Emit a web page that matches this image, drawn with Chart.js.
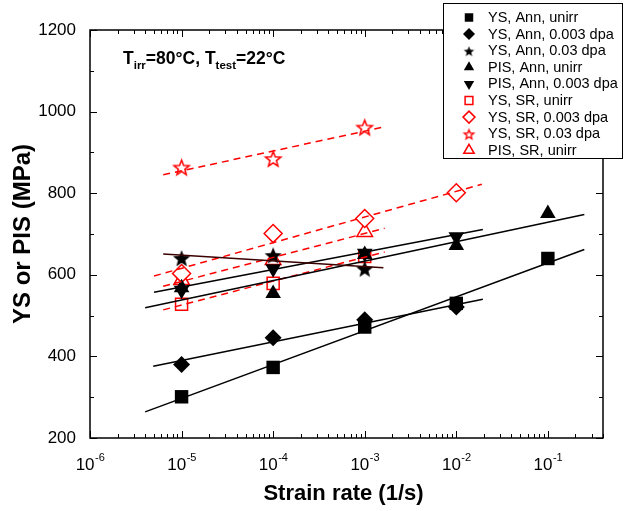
<!DOCTYPE html>
<html>
<head>
<meta charset="utf-8">
<script src="https://cdn.jsdelivr.net/npm/chart.js@4.4.1/dist/chart.umd.min.js"></script>
<style>
  html, body { margin: 0; padding: 0; background: #fff; }
</style>
</head>
<body>
<canvas id="myChart" width="624" height="511"></canvas>
<script>
// strain rates (1/s) and measured strengths (MPa)
const rates = [1e-5, 1e-4, 1e-3, 1e-2, 1e-1];
const ysAnnUnirr = [301, 373, 472, 530, 640];
const ysAnn0003 = [380, 446, 490, 521];
const ysAnn003 = [641, 648, 615];
const pisAnnUnirr = [568, 554, 650, 672, 750];
const pisAnn0003 = [562, 615, 653, 693];
const ysSrUnirr = [528, 579, 645];
const ysSr0003 = [603, 701, 738, 801];
const ysSr003 = [864, 885, 962];
const pisSrUnirr = [587, 636, 705];

// fit line end points [rate, MPa]
const fitYsAnnUnirr = [[4e-6, 264], [0.25, 662]];
const fitYsAnn0003 = [[4.9e-6, 376], [0.0195, 540]];
const fitYsAnn003 = [[6.3e-6, 651], [1.6e-3, 617]];
const fitPisAnnUnirr = [[4e-6, 519], [0.25, 748]];
const fitPisAnn0003 = [[5e-6, 557], [0.0195, 711]];
const fitYsSrUnirr = [[6.3e-6, 514], [1.65e-3, 656]];
const fitYsSr0003 = [[5e-6, 597], [0.019, 822]];
const fitYsSr003 = [[6.3e-6, 845], [1.6e-3, 962]];
const fitPisSrUnirr = [[6.3e-6, 572], [1.65e-3, 714]];

const xTickValues = [1e-6, 1e-5, 1e-4, 1e-3, 1e-2, 1e-1];
const xTickExps = ['-6', '-5', '-4', '-3', '-2', '-1'];
const yTicks = [200, 400, 600, 800, 1000, 1200];

const RED = '#ff0000';
const FONT = 'Arial, "Liberation Sans", sans-serif';

function starCanvas(R, fill, stroke, lw) {
    const s = Math.ceil(2 * R + lw * 2 + 2);
    const c = document.createElement('canvas');
    c.width = c.height = s;
    const g = c.getContext('2d');
    g.beginPath();
    for (let i = 0; i < 10; i++) {
        const r = i % 2 ? R * 0.43 : R;
        const a = -Math.PI / 2 + i * Math.PI / 5;
        g.lineTo(s / 2 + r * Math.cos(a), s / 2 + 1 + r * Math.sin(a));
    }
    g.closePath();
    if (fill) { g.fillStyle = fill; g.fill(); }
    if (stroke) { g.strokeStyle = stroke; g.lineWidth = lw; g.stroke(); }
    return c;
}

const blackStar = starCanvas(9, '#000', null, 0);
const redStar = starCanvas(8, '#fff', RED, 1.5);
const blackStarSmall = starCanvas(5.5, '#000', null, 0);
const redStarSmall = starCanvas(5, '#fff', RED, 1.3);

function pts(xs, ys) {
    return ys.map((y, i) => ({x: xs[i], y: y}));
}
function seg(p) {
    return p.map(q => ({x: q[0], y: q[1]}));
}

function markers(label, data, style, radius, color, filled, rot, legendStyle, legendRadius) {
    return {
        label: label,
        data: data,
        showLine: false,
        pointStyle: style,
        pointRadius: radius,
        pointHoverRadius: radius,
        pointRotation: rot || 0,
        pointBackgroundColor: filled ? color : '#fff',
        pointBorderColor: color,
        pointBorderWidth: filled ? 0 : 1.5,
        legendStyle: legendStyle || style,
        legendRadius: legendRadius,
        order: 2
    };
}
function fit(data, color, dashed) {
    return {
        label: '',
        data: data,
        showLine: true,
        pointRadius: 0,
        borderColor: color,
        borderWidth: 1.5,
        borderDash: dashed ? [7, 5] : [],
        fill: false,
        isFit: true,
        order: 1
    };
}

const datasets = [
    markers('YS, Ann, unirr', pts(rates, ysAnnUnirr), 'rect', 9.5, '#000', true, 0, 'rect', 6),
    markers('YS, Ann, 0.003 dpa', pts(rates, ysAnn0003), 'rectRot', 8.5, '#000', true, 0, 'rectRot', 6),
    markers('YS, Ann, 0.03 dpa', pts(rates, ysAnn003), blackStar, 9, '#000', true, 0, blackStarSmall, 6),
    markers('PIS, Ann, unirr', pts(rates, pisAnnUnirr), 'triangle', 9, '#000', true, 0, 'triangle', 6),
    markers('PIS, Ann, 0.003 dpa', pts(rates, pisAnn0003), 'triangle', 9, '#000', true, 180, 'triangle', 6),
    markers('YS, SR, unirr', pts(rates, ysSrUnirr), 'rect', 8.5, RED, false, 0, 'rect', 5.5),
    markers('YS, SR, 0.003 dpa', pts(rates, ysSr0003), 'rectRot', 9, RED, false, 0, 'rectRot', 6),
    markers('YS, SR, 0.03 dpa', pts(rates, ysSr003), redStar, 8, RED, false, 0, redStarSmall, 6),
    markers('PIS, SR, unirr', pts(rates, pisSrUnirr), 'triangle', 9, RED, false, 0, 'triangle', 6),
    fit(seg(fitYsAnnUnirr), '#000', false),
    fit(seg(fitYsAnn0003), '#000', false),
    fit(seg(fitYsAnn003), '#3a0000', false),
    fit(seg(fitPisAnnUnirr), '#000', false),
    fit(seg(fitPisAnn0003), '#000', false),
    fit(seg(fitYsSrUnirr), RED, true),
    fit(seg(fitYsSr0003), RED, true),
    fit(seg(fitYsSr003), RED, true),
    fit(seg(fitPisSrUnirr), RED, true)
];

// frame, inward ticks on all four sides, x labels, titles, legend box, note
const decor = {
    id: 'decor',
    afterDatasetsDraw(chart) {
        const ctx = chart.ctx;
        const a = chart.chartArea;
        const xs = chart.scales.x;
        const ys = chart.scales.y;
        ctx.save();
        ctx.strokeStyle = '#000';
        ctx.lineWidth = 1.5;
        ctx.strokeRect(a.left, a.top, a.right - a.left, a.bottom - a.top);

        ctx.lineWidth = 1;
        ctx.beginPath();
        for (let d = -6; d <= -1; d++) {
            for (let m = 1; m <= 9; m++) {
                const v = m * Math.pow(10, d);
                if (v > xs.max) break;
                const px = Math.round(xs.getPixelForValue(v)) + 0.5;
                const len = m === 1 ? 7 : 4;
                ctx.moveTo(px, a.bottom); ctx.lineTo(px, a.bottom - len);
                ctx.moveTo(px, a.top); ctx.lineTo(px, a.top + len);
            }
        }
        for (let v = 200; v <= 1200; v += 100) {
            const py = Math.round(ys.getPixelForValue(v)) + 0.5;
            const len = v % 200 === 0 ? 7 : 4;
            ctx.moveTo(a.left, py); ctx.lineTo(a.left + len, py);
            ctx.moveTo(a.right, py); ctx.lineTo(a.right - len, py);
        }
        ctx.stroke();

        // x tick labels 10^n
        ctx.fillStyle = '#000';
        ctx.textBaseline = 'alphabetic';
        xTickValues.forEach((v, i) => {
            const px = xs.getPixelForValue(v);
            ctx.font = '17px ' + FONT;
            const w1 = ctx.measureText('10').width;
            ctx.font = '11px ' + FONT;
            const w2 = ctx.measureText(xTickExps[i]).width;
            const x0 = px - (w1 + w2) / 2;
            ctx.font = '17px ' + FONT;
            ctx.textAlign = 'left';
            ctx.fillText('10', x0, 470);
            ctx.font = '11px ' + FONT;
            ctx.fillText(xTickExps[i], x0 + w1 + 0.5, 461);
        });

        // axis titles
        ctx.textAlign = 'center';
        ctx.textBaseline = 'middle';
        ctx.font = 'bold 22px ' + FONT;
        ctx.fillText('Strain rate (1/s)', (a.left + a.right) / 2 - 3, 494);
        ctx.save();
        ctx.translate(23, (a.top + a.bottom) / 2);
        ctx.rotate(-Math.PI / 2);
        ctx.font = 'bold 24px ' + FONT;
        ctx.fillText('YS or PIS (MPa)', 0, 0);
        ctx.restore();

        // note with subscripts
        ctx.textAlign = 'left';
        ctx.textBaseline = 'alphabetic';
        let x = 123;
        const parts = [['T', 0], ['irr', 1], ['=80\u00b0C, T', 0], ['test', 1], ['=22\u00b0C', 0]];
        parts.forEach(p => {
            ctx.font = p[1] ? 'bold 11.5px ' + FONT : 'bold 17.5px ' + FONT;
            ctx.fillText(p[0], x, p[1] ? 69 : 64);
            x += ctx.measureText(p[0]).width;
        });

        // legend box
        const lx = 443, ly = 3, lw = 179, lh = 155;
        ctx.fillStyle = '#fff';
        ctx.fillRect(lx, ly, lw, lh);
        ctx.strokeStyle = '#000';
        ctx.lineWidth = 1;
        ctx.strokeRect(lx + 0.5, ly + 0.5, lw, lh);
        let row = 0;
        chart.data.datasets.forEach(ds => {
            if (ds.isFit) return;
            const cy = 17.5 + row * 16.6;
            ctx.save();
            ctx.fillStyle = ds.pointBackgroundColor;
            ctx.strokeStyle = ds.pointBorderColor;
            ctx.lineWidth = ds.pointBorderWidth;
            Chart.helpers.drawPoint(ctx, {
                pointStyle: ds.legendStyle,
                radius: ds.legendRadius,
                rotation: ds.pointRotation,
                borderWidth: ds.pointBorderWidth
            }, 469, cy);
            ctx.restore();
            ctx.fillStyle = '#000';
            ctx.font = '14.5px ' + FONT;
            ctx.textBaseline = 'middle';
            ctx.fillText(ds.label, 488, cy + 0.5);
            row++;
        });
        ctx.restore();
    }
};

new Chart(document.getElementById('myChart').getContext('2d'), {
    type: 'scatter',
    data: {datasets: datasets},
    options: {
        responsive: false,
        animation: false,
        events: [],
        layout: {padding: {top: 30, right: 21, left: 0, bottom: 0}},
        plugins: {
            legend: {display: false},
            tooltip: {enabled: false}
        },
        scales: {
            x: {
                type: 'logarithmic',
                min: 1e-6,
                max: 0.4,
                ticks: {display: false},
                grid: {display: false, drawTicks: false},
                border: {display: false},
                afterFit: s => { s.height = 73; }
            },
            y: {
                min: 200,
                max: 1200,
                afterBuildTicks: s => { s.ticks = yTicks.map(v => ({value: v})); },
                ticks: {
                    color: '#000',
                    padding: 14,
                    callback: v => String(v),
                    font: {family: FONT, size: 17}
                },
                grid: {display: false, drawTicks: false},
                border: {display: false},
                afterFit: s => { s.width = 90; }
            }
        }
    },
    plugins: [decor]
});
</script>
</body>
</html>
